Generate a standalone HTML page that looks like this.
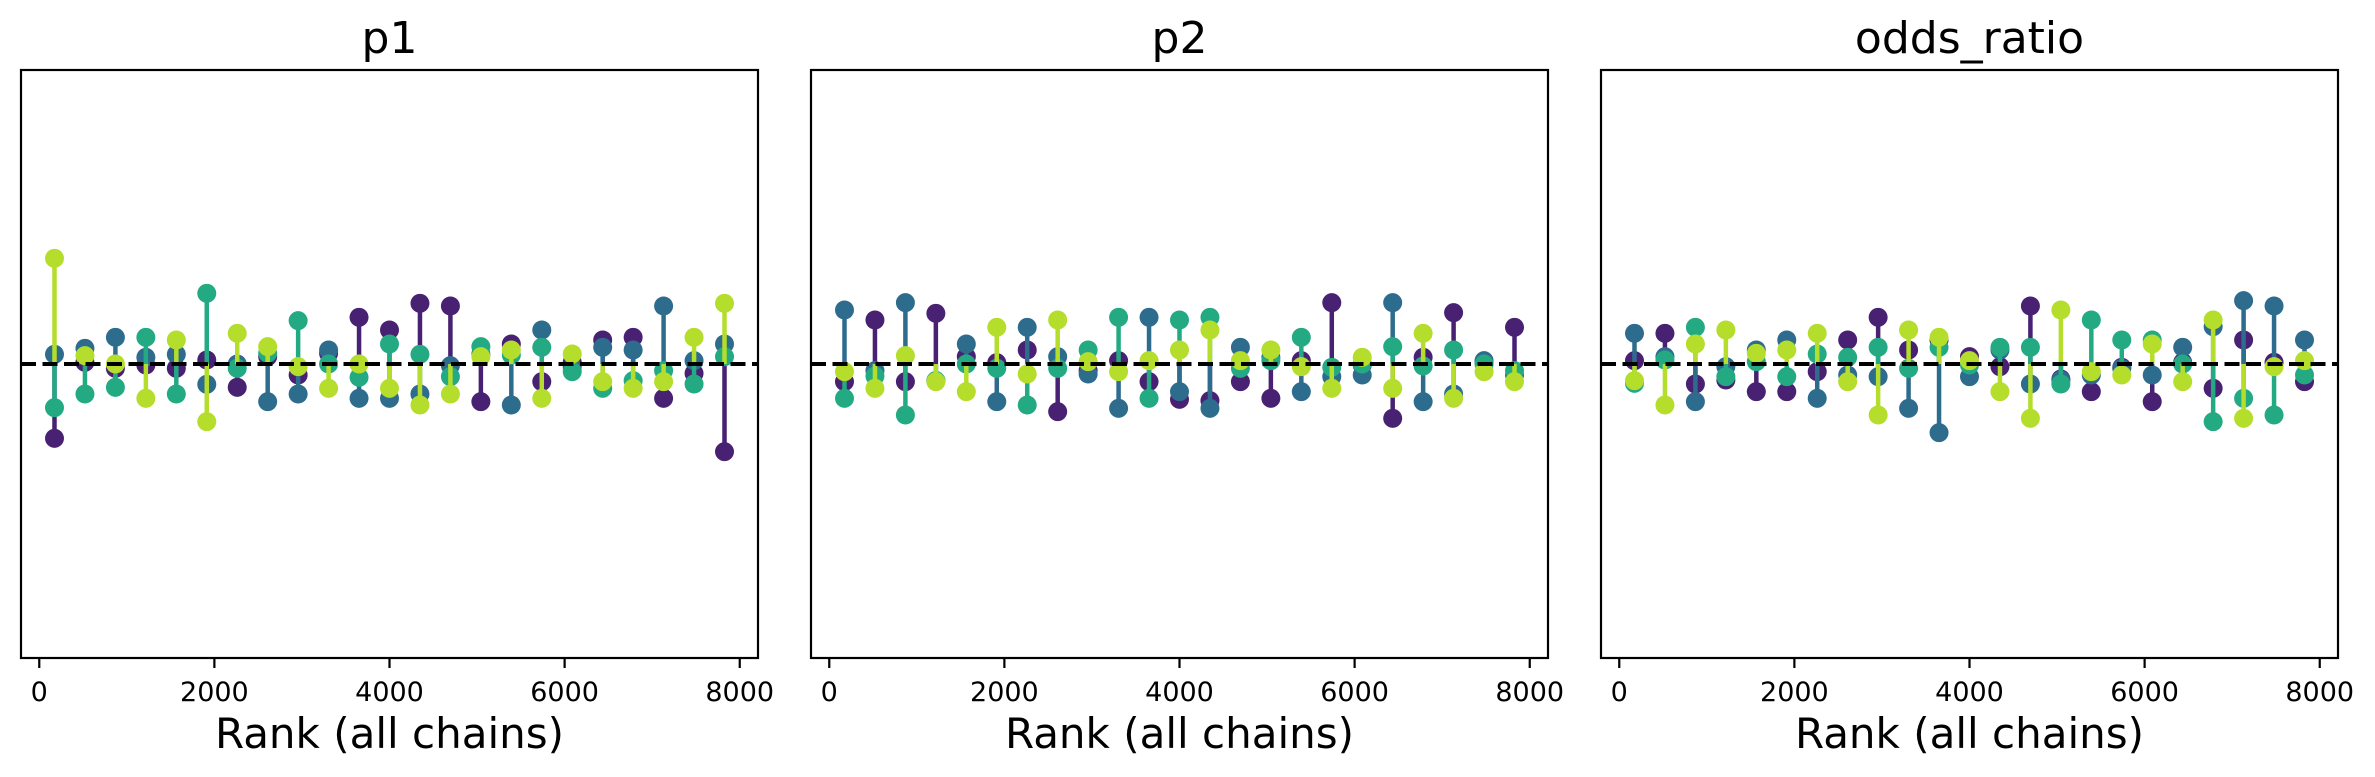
<!DOCTYPE html>
<html><head><meta charset="utf-8"><style>
html,body{margin:0;padding:0;background:#fff;}
svg{display:block;font-family:"DejaVu Sans","Liberation Sans",sans-serif;}
</style></head><body>
<svg id="fig" width="2375" height="777" viewBox="0 0 2375 777"></svg>
<script>
// Data: bin-count deviation per chain (positive = above uniform line), 23 bins
const titles = ["p1", "p2", "odds_ratio"];
const xTicks = [0, 2000, 4000, 6000, 8000];
const nBins = 23;
const nRanks = 8000;
const chainNames = ["chain-0", "chain-1", "chain-2", "chain-3"];
const p1_c0 = [-223,5,-13,-3,-13,12,-70,22,-33,32,140,102,182,174,-113,60,-53,5,72,80,-103,-28,-263];
const p1_c1 = [29,47,80,20,29,-61,0,-113,-90,42,-103,-103,-90,-5,30,-123,102,-10,50,42,174,10,60];
const p1_c2 = [-131,-90,-70,80,-90,212,-13,32,130,0,-40,60,29,-38,52,27,50,-23,-73,-50,-20,-60,22];
const p1_c3 = [317,25,0,-103,72,-173,92,52,-8,-73,0,-73,-123,-90,22,42,-103,30,-53,-73,-53,80,182];
const p2_c0 = [-53,132,-53,152,22,4,42,-143,-20,10,-53,-106,-110,-53,-103,10,184,-3,-163,20,154,5,110];
const p2_c1 = [162,-20,184,-50,60,-113,110,22,-30,-133,140,-83,-133,50,20,-83,-38,-33,184,-113,-90,10,-33];
const p2_c2 = [-103,-36,-153,-50,0,-13,-123,-13,42,140,-103,132,140,-13,10,80,-10,0,52,-6,42,0,-20];
const p2_c3 = [-23,-73,25,-53,-83,110,-30,132,7,-23,10,42,102,10,42,-8,-73,20,-73,92,-103,-23,-53];
const or_c0 = [10,92,-60,-48,-83,-83,-23,72,140,42,72,22,-8,174,-45,-83,-10,-113,5,-73,72,5,-53];
const or_c1 = [92,22,-113,-8,42,72,-103,-33,-38,-133,-206,-38,42,-60,-48,-33,-13,-33,50,112,190,174,72];
const or_c2 = [-58,12,110,-38,7,-38,30,20,50,-13,50,-3,50,50,-60,132,72,72,0,-173,-103,-153,-33];
const or_c3 = [-50,-123,60,102,32,42,92,-53,-153,102,80,10,-83,-163,162,-23,-33,60,-53,132,-163,-8,10];
const panelData = [[p1_c0,p1_c1,p1_c2,p1_c3],[p2_c0,p2_c1,p2_c2,p2_c3],[or_c0,or_c1,or_c2,or_c3]];

const colors = ["#482173","#2e6c8e","#24aa83","#b4dd2c"];
const NS = "http://www.w3.org/2000/svg";
const svgEl = document.getElementById("fig");
const panelLeft = [21, 811, 1601];
const panelW = 737, axTop = 70, axBottom = 658, baseY = 364;
const xmin = -208.6, xmax = 8208.6;
function mk(tag, attrs, parent){const e=document.createElementNS(NS,tag);for(const k in attrs)e.setAttribute(k,attrs[k]);parent.appendChild(e);return e;}

panelData.forEach((series, p) => {
  const L = panelLeft[p];
  const xScale = v => L + (v - xmin) / (xmax - xmin) * panelW;
  const yScale = v => baseY - v / 3;
  const g = mk("g", {}, svgEl);
  
  
  const t = mk("text", {x: L + panelW/2, y: 53, "text-anchor": "middle", "font-size": 44, fill: "#000"}, g);
  t.textContent = titles[p];
  
  
  series.forEach((vals, c) => {
    const cg = mk("g", {}, g);
    
    
    vals.forEach((v, i) => {
      const xr = (i + 0.5) * nRanks / nBins;
      const x = xScale(xr), y = yScale(v);
      const ln = mk("line", {x1: x, x2: x, y1: baseY, y2: y, stroke: colors[c], "stroke-width": 4.5}, cg);
      
      
      const ci = mk("circle", {cx: x, cy: y, r: 9.5, fill: colors[c]}, cg);
      
      
    });
  });
  const dl = mk("line", {x1: L, x2: L + panelW, y1: baseY, y2: baseY, stroke: "#000", "stroke-width": 4, "stroke-dasharray": "15 6.5"}, g);
  
  
  const box = mk("rect", {x: L, y: axTop, width: panelW, height: axBottom - axTop, fill: "none", stroke: "#000", "stroke-width": 2.2}, g);
  
  
  xTicks.forEach(tv => {
    const x = xScale(tv);
    const tk = mk("line", {x1: x, x2: x, y1: axBottom, y2: axBottom + 10, stroke: "#000", "stroke-width": 2.2}, g);
    
    
    const tl = mk("text", {x: x, y: 701, "text-anchor": "middle", "font-size": 27, fill: "#000"}, g);
    tl.textContent = tv;
    
    
  });
  const xl = mk("text", {x: L + panelW/2, y: 748, "text-anchor": "middle", "font-size": 42, fill: "#000"}, g);
  xl.textContent = "Rank (all chains)";
  
  
});
</script>
</body></html>
